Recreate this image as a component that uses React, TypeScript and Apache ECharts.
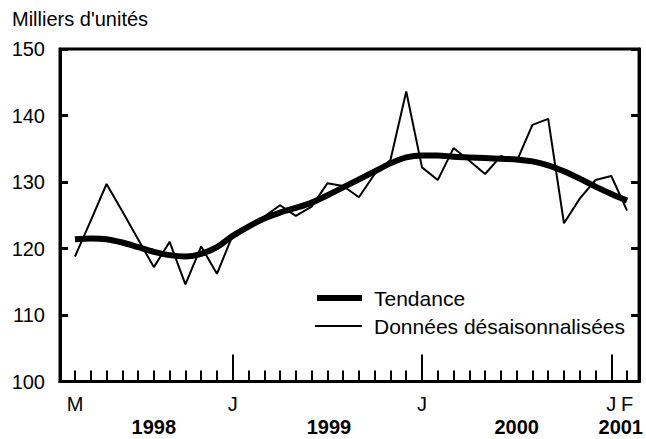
import React, { useEffect, useRef } from "react";
import * as echarts from "echarts";

// Months from March 1998 (index 0) to February 2001 (index 35)
const months: string[] = [
  "1998-03","1998-04","1998-05","1998-06","1998-07","1998-08","1998-09","1998-10","1998-11","1998-12",
  "1999-01","1999-02","1999-03","1999-04","1999-05","1999-06","1999-07","1999-08","1999-09","1999-10","1999-11","1999-12",
  "2000-01","2000-02","2000-03","2000-04","2000-05","2000-06","2000-07","2000-08","2000-09","2000-10","2000-11","2000-12",
  "2001-01","2001-02",
];

const seasonallyAdjusted: number[] = [
  118.8, 124.2, 129.7, 125.6, 121.4, 117.2, 121.0, 114.6, 120.3, 116.2,
  122.0, 123.2, 124.8, 126.5, 124.9, 126.3, 129.8, 129.4, 127.7, 131.2, 133.3, 143.6,
  132.2, 130.3, 135.1, 133.2, 131.2, 133.9, 133.1, 138.6, 139.5, 123.8, 127.5, 130.3,
  130.9, 125.7,
];

const trend: number[] = [
  121.4, 121.5, 121.4, 120.9, 120.2, 119.5, 119.0, 118.8, 119.2, 120.2,
  121.9, 123.3, 124.5, 125.4, 126.1, 126.9, 128.0, 129.2, 130.4, 131.6, 132.8, 133.7,
  134.0, 134.0, 133.8, 133.7, 133.6, 133.5, 133.4, 133.1, 132.5, 131.6, 130.5, 129.3,
  128.2, 127.2,
];

const januaryIdx: number[] = [10, 22, 34];
const monthLabelIdx: number[] = [0, 10, 22, 34, 35];
const monthLabelText: string[] = ["M", "J", "J", "J", "F"];
const yearLabels: string[] = ["1998", "1999", "2000", "2001"];
const yearLabelIdx: number[] = [5, 16.1, 28, 34.6];
const yTicks: number[] = [100, 110, 120, 130, 140, 150];

const seriesNames = ["Tendance", "Données désaisonnalisées"];
const unitLabel = "Milliers d'unités";

const FONT = "'Liberation Sans', Arial, Helvetica, sans-serif";

export default function App() {
  const ref = useRef<HTMLDivElement>(null);
  useEffect(() => {
    if (!ref.current) return;
    const chart = echarts.init(ref.current, null, { renderer: "svg" });
    const smallTicks = months.map((_, i) => i).filter((i) => !januaryIdx.includes(i));
    const xMin = -0.95;
    const xMax = 35.76;
    const baseX = {
      type: "value" as const,
      min: xMin,
      max: xMax,
      position: "bottom" as const,
      splitLine: { show: false },
    };
    chart.setOption({
      animation: false,
      backgroundColor: "#fff",
      title: {
        text: unitLabel,
        left: 7,
        top: 4,
        textStyle: { fontFamily: FONT, fontSize: 20, fontWeight: "normal", color: "#000" },
      },
      grid: {
        left: 60,
        right: 5,
        top: 49,
        bottom: 57.5,
        show: true,
        borderColor: "#000",
        borderWidth: 3,
        backgroundColor: "transparent",
      },
      xAxis: [
        {
          ...baseX,
          axisLine: { show: true, onZero: false, lineStyle: { color: "#000", width: 3 } },
          axisTick: {
            show: true,
            inside: true,
            length: 11,
            customValues: smallTicks,
            lineStyle: { color: "#000", width: 2 },
          },
          axisLabel: {
            show: true,
            customValues: monthLabelIdx,
            formatter: (v: number) => {
              const k = monthLabelIdx.indexOf(Math.round(v));
              return k >= 0 ? monthLabelText[k] : "";
            },
            margin: 12,
            fontFamily: FONT,
            fontSize: 20,
            color: "#000",
          },
        },
        {
          ...baseX,
          axisLine: { show: false, onZero: false },
          axisTick: {
            show: true,
            inside: true,
            length: 27,
            customValues: januaryIdx,
            lineStyle: { color: "#000", width: 2 },
          },
          axisLabel: { show: false },
        },
        {
          ...baseX,
          axisLine: { show: false, onZero: false },
          axisTick: { show: false },
          axisLabel: {
            show: true,
            customValues: yearLabelIdx,
            formatter: (v: number) => {
              const k = yearLabelIdx.findIndex((x) => Math.abs(x - v) < 1e-6);
              return k >= 0 ? yearLabels[k] : "";
            },
            margin: 35,
            fontFamily: FONT,
            fontSize: 20,
            fontWeight: "bold",
            color: "#000",
          },
        },
      ],
      yAxis: [
        {
          type: "value",
          min: 100,
          max: 150,
          interval: 10,
          position: "left",
          splitLine: { show: false },
          axisLine: { show: true, onZero: false, lineStyle: { color: "#000", width: 3 } },
          axisTick: { show: true, inside: true, length: 8, customValues: yTicks, lineStyle: { color: "#000", width: 3 } },
          axisLabel: { margin: 15, fontFamily: FONT, fontSize: 20, color: "#000" },
        },
        {
          type: "value",
          min: 100,
          max: 150,
          interval: 10,
          position: "right",
          splitLine: { show: false },
          axisLine: { show: true, onZero: false, lineStyle: { color: "#000", width: 3 } },
          axisTick: { show: true, inside: true, length: 8, customValues: yTicks, lineStyle: { color: "#000", width: 3 } },
          axisLabel: { show: false },
        },
      ],
      series: [
        {
          name: seriesNames[1],
          type: "line",
          xAxisIndex: 0,
          yAxisIndex: 0,
          data: seasonallyAdjusted.map((v, i) => [i, v]),
          symbol: "none",
          lineStyle: { color: "#000", width: 2 },
          z: 3,
        },
        {
          name: seriesNames[0],
          type: "line",
          xAxisIndex: 0,
          yAxisIndex: 0,
          data: trend.map((v, i) => [i, v]),
          symbol: "none",
          smooth: 0.3,
          lineStyle: { color: "#000", width: 6 },
          z: 2,
        },
      ],
      graphic: [
        { type: "line", shape: { x1: 317, y1: 298, x2: 362, y2: 298 }, style: { stroke: "#000", lineWidth: 6 } },
        {
          type: "text",
          x: 374,
          y: 298,
          style: { text: seriesNames[0], fontFamily: FONT, fontSize: 21, fill: "#000", verticalAlign: "middle" },
        },
        { type: "line", shape: { x1: 315, y1: 326, x2: 362, y2: 326 }, style: { stroke: "#000", lineWidth: 2 } },
        {
          type: "text",
          x: 374,
          y: 326,
          style: { text: seriesNames[1], fontFamily: FONT, fontSize: 21, fill: "#000", verticalAlign: "middle" },
        },
      ],
    });
    return () => chart.dispose();
  }, []);
  return (
    <div
      ref={ref}
      style={{ position: "fixed", left: 0, top: 0, width: 646, height: 439 }}
    />
  );
}
